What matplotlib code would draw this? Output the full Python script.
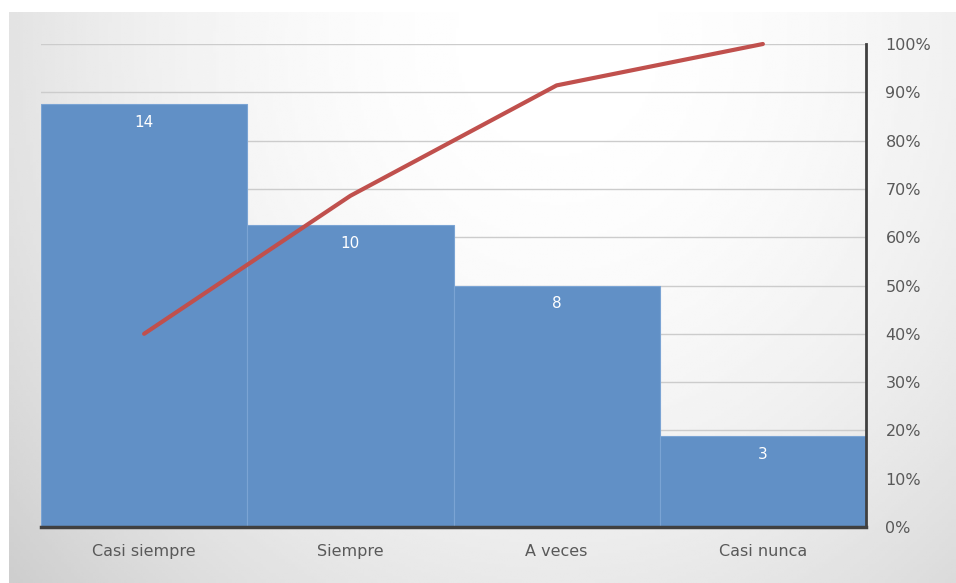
import numpy as np
import matplotlib
matplotlib.use("Agg")
import matplotlib.pyplot as plt
from matplotlib.ticker import PercentFormatter

categorias = ["Casi siempre", "Siempre", "A veces", "Casi nunca"]
frecuencia = [14, 10, 8, 3]
acumulado = [40.0, 68.57, 91.43, 100.0]

fig = plt.figure(figsize=(9.56, 5.83), dpi=100)
fig.patch.set_facecolor("white")

# fondo degradado
bg = fig.add_axes([9 / 956, 0, 1 - 9 / 956, (583 - 12) / 583])
gx, gy = np.meshgrid(np.linspace(0, 1, 300), np.linspace(0, 1, 200))
d = np.sqrt(((gx - 0.58) / 0.7) ** 2 + ((gy - 0.05) / 1.3) ** 2)
shade = 1 - 0.16 * np.clip(d, 0, 1.2) ** 2
bg.imshow(shade, cmap="gray", vmin=0, vmax=1, aspect="auto", extent=[0, 1, 1, 0])
bg.axis("off")

ax = fig.add_axes([41 / 956, (583 - 527) / 583, (866 - 41) / 956, (527 - 44) / 583])
ax.patch.set_alpha(0)
x = np.arange(len(categorias))
ax.set_xlim(-0.5, len(categorias) - 0.5)
ax.set_ylim(0, 16)
ax.set_yticks(np.linspace(0, 16, 11))
ax.grid(axis="y", color="#cccccc", lw=1)
ax.set_axisbelow(True)

bars = ax.bar(x, frecuencia, width=1.0, color="#6190c6", edgecolor="#7ba4d4", lw=0.8, zorder=2)
for b, v in zip(bars, frecuencia):
    ax.text(b.get_x() + b.get_width() / 2, v - 0.35, str(v), ha="center", va="top",
            color="white", fontsize=11, zorder=3)

ax.set_xticks(x)
ax.set_xticklabels(categorias, fontsize=11.5, color="#595959")
ax.tick_params(axis="x", length=0, pad=12)
for s in ["top", "left", "right"]:
    ax.spines[s].set_visible(False)
ax.spines["bottom"].set_color("#404040")
ax.spines["bottom"].set_linewidth(2.5)

ax2 = ax.twinx()
ax.tick_params(axis="y", left=False, right=False, labelleft=False)
ax2.set_ylim(0, 100)
ax2.plot(x, acumulado, color="#c0504d", lw=3, clip_on=False, zorder=4,
         solid_capstyle="round")
ax2.set_yticks(np.arange(0, 101, 10))
ax2.yaxis.set_major_formatter(PercentFormatter(decimals=0))
ax2.tick_params(axis="y", left=False, length=0, pad=14, labelsize=11.5, labelcolor="#595959")
for s in ["top", "left", "bottom"]:
    ax2.spines[s].set_visible(False)
ax2.spines["right"].set_color("#404040")
ax2.spines["right"].set_linewidth(2)

fig.savefig("out.png", dpi=100, facecolor=fig.get_facecolor())
